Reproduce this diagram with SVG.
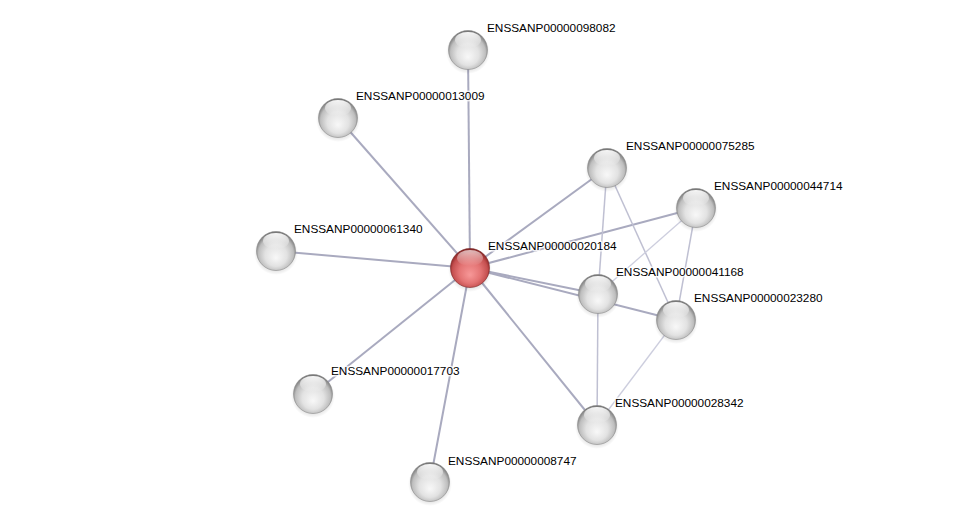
<svg xmlns="http://www.w3.org/2000/svg" width="976" height="527" viewBox="0 0 976 527">
<defs>
<radialGradient id="gGrey" cx="0.5" cy="0.55" r="0.56" fx="0.5" fy="0.68">
<stop offset="0" stop-color="#f8f8f8"/>
<stop offset="0.5" stop-color="#e2e2e2"/>
<stop offset="0.8" stop-color="#bebebe"/>
<stop offset="0.92" stop-color="#8c8c8c"/>
<stop offset="1" stop-color="#5a5a5a"/>
</radialGradient>
<radialGradient id="gRed" cx="0.5" cy="0.55" r="0.56" fx="0.5" fy="0.68">
<stop offset="0" stop-color="#f79898"/>
<stop offset="0.5" stop-color="#e37373"/>
<stop offset="0.8" stop-color="#c55050"/>
<stop offset="0.92" stop-color="#9a3030"/>
<stop offset="1" stop-color="#6a1a1a"/>
</radialGradient>
<linearGradient id="gHi" x1="0" y1="0" x2="0" y2="1">
<stop offset="0" stop-color="#ffffff" stop-opacity="0.95"/>
<stop offset="1" stop-color="#ffffff" stop-opacity="0"/>
</linearGradient>
<radialGradient id="gShadow" cx="0.5" cy="0.5" r="0.5">
<stop offset="0.6" stop-color="#000" stop-opacity="0.2"/>
<stop offset="1" stop-color="#000" stop-opacity="0"/>
</radialGradient>
<g id="sphereG">
<circle cx="0" cy="2" r="22" fill="url(#gShadow)"/>
<circle cx="0" cy="0" r="19.5" fill="url(#gGrey)" stroke="#8a8a8a" stroke-width="0.6"/>
<ellipse cx="0" cy="-10" rx="13" ry="8" fill="url(#gHi)"/>
</g>
<g id="sphereR">
<circle cx="0" cy="2" r="22" fill="url(#gShadow)"/>
<circle cx="0" cy="0" r="19.5" fill="url(#gRed)" stroke="#7a2222" stroke-width="0.6"/>
<ellipse cx="0" cy="-10" rx="13" ry="8" fill="url(#gHi)" opacity="0.7"/>
</g>
</defs>
<style>
.e1{stroke:#a9aabf;stroke-width:2;fill:none}
.e2{stroke:#bfc0d2;stroke-width:1.5;fill:none}
.e3{stroke:#cdcede;stroke-width:1.3;fill:none}
.lbl{font-family:"Liberation Sans",Arial,sans-serif;font-size:11.8px;fill:#000;stroke:#fff;stroke-width:3;stroke-opacity:0.8;paint-order:stroke;stroke-linejoin:round}
</style>
<rect width="976" height="527" fill="#fff"/>
<g id="edges">
<line class="e1" x1="470" y1="268" x2="468" y2="50"/>
<line class="e1" x1="470" y1="268" x2="338" y2="118"/>
<line class="e1" x1="470" y1="268" x2="276" y2="251"/>
<line class="e1" x1="470" y1="268" x2="313" y2="394"/>
<line class="e1" x1="470" y1="268" x2="430" y2="482"/>
<line class="e1" x1="470" y1="268" x2="597" y2="425"/>
<line class="e1" x1="470" y1="268" x2="598" y2="294"/>
<line class="e1" x1="470" y1="268" x2="676" y2="320"/>
<line class="e1" x1="470" y1="268" x2="607" y2="168"/>
<line class="e1" x1="470" y1="268" x2="696" y2="208"/>
<line class="e2" x1="607" y1="168" x2="598" y2="294"/>
<line class="e2" x1="607" y1="168" x2="676" y2="320"/>
<line class="e3" x1="696" y1="208" x2="598" y2="294"/>
<line class="e2" x1="696" y1="208" x2="676" y2="320"/>
<line class="e2" x1="598" y1="294" x2="597" y2="425"/>
<line class="e3" x1="676" y1="320" x2="597" y2="425"/>
</g>
<g id="n98082"><use href="#sphereG" x="468" y="50"/><text class="lbl" x="487" y="32">ENSSANP00000098082</text></g>
<g id="n13009"><use href="#sphereG" x="338" y="118"/><text class="lbl" x="356" y="100">ENSSANP00000013009</text></g>
<g id="n75285"><use href="#sphereG" x="607" y="168"/><text class="lbl" x="626" y="150">ENSSANP00000075285</text></g>
<g id="n44714"><use href="#sphereG" x="696" y="208"/><text class="lbl" x="714" y="190">ENSSANP00000044714</text></g>
<g id="n61340"><use href="#sphereG" x="276" y="251"/><text class="lbl" x="294" y="233">ENSSANP00000061340</text></g>
<g id="n41168"><use href="#sphereG" x="598" y="294"/><text class="lbl" x="616" y="276">ENSSANP00000041168</text></g>
<g id="n23280"><use href="#sphereG" x="676" y="320"/><text class="lbl" x="694" y="302">ENSSANP00000023280</text></g>
<g id="n17703"><use href="#sphereG" x="313" y="394"/><text class="lbl" x="331" y="375">ENSSANP00000017703</text></g>
<g id="n28342"><use href="#sphereG" x="597" y="425"/><text class="lbl" x="615" y="407">ENSSANP00000028342</text></g>
<g id="n8747"><use href="#sphereG" x="430" y="482"/><text class="lbl" x="448" y="465">ENSSANP00000008747</text></g>
<g id="n20184"><use href="#sphereR" x="470" y="268"/><text class="lbl" x="488" y="250">ENSSANP00000020184</text></g>
</svg>
